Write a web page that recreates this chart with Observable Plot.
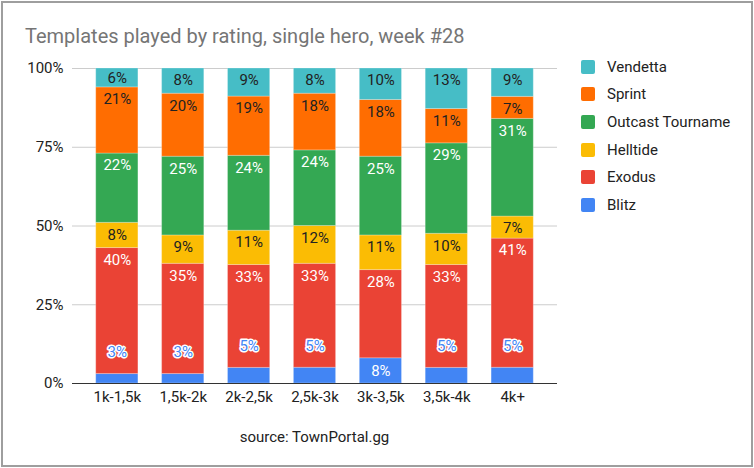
<!DOCTYPE html>
<html>
<head>
<meta charset="utf-8">
<script src="https://cdn.jsdelivr.net/npm/d3@7"></script>
<script src="https://cdn.jsdelivr.net/npm/@observablehq/plot@0.6"></script>
<style>
  html, body { margin: 0; padding: 0; background: #fff; }
  #wrap { position: relative; width: 754px; height: 468px; overflow: hidden; font-family: Roboto, "Liberation Sans", Arial, sans-serif; }
  #border { position: absolute; left: 1px; top: 1px; width: 752px; height: 466px; box-sizing: border-box; border: 2px solid #9e9e9e; pointer-events: none; }
  #title { position: absolute; left: 25px; top: 24px; font-size: 20px; color: #757575; white-space: nowrap; line-height: 24px; }
  #chart { position: absolute; left: 0; top: 0; }
  #legend { position: absolute; left: 581px; top: 53px; }
  .li { display: flex; align-items: center; height: 27.6px; font-size: 15px; color: #222; }
  .sw { width: 14px; height: 14px; border-radius: 2px; margin-right: 12px; }
  #caption { position: absolute; left: 72px; width: 485px; top: 428px; text-align: center; font-size: 15px; color: #222; line-height: 18px; }
</style>
</head>
<body>
<div id="wrap">
  <div id="chart"></div>
  <div id="title"></div>
  <div id="legend"></div>
  <div id="caption"></div>
  <div id="border"></div>
</div>
<script>
const titleText = "Templates played by rating, single hero, week #28";
const captionText = "source: TownPortal.gg";
const categories = ["1k-1,5k", "1,5k-2k", "2k-2,5k", "2,5k-3k", "3k-3,5k", "3,5k-4k", "4k+"];
const series = ["Blitz", "Exodus", "Helltide", "Outcast Tourname", "Sprint", "Vendetta"];
const colors = ["#4285f4", "#ea4335", "#fbbc04", "#34a853", "#ff6d01", "#46bdc6"];
const blitz    = [3, 3, 5, 5, 8, 5, 5];
const exodus   = [40, 35, 33, 33, 28, 33, 41];
const helltide = [8, 9, 11, 12, 11, 10, 7];
const outcast  = [22, 25, 24, 24, 25, 29, 31];
const sprint   = [21, 20, 19, 18, 18, 11, 7];
const vendetta = [6, 8, 9, 8, 10, 13, 9];
const yTicks = [0, 0.25, 0.5, 0.75, 1];

const seriesValues = [blitz, exodus, helltide, outcast, sprint, vendetta];
const data = [];
categories.forEach((c, i) => {
  series.forEach((s, j) => data.push({category: c, series: s, value: seriesValues[j][i]}));
});

const darkLabel = new Set(["Helltide", "Sprint", "Vendetta"]);
const lbl = d => d.value + "%";
const stackOpts = {x: "category", y: "value", z: "series", offset: "normalize", order: series};

function labels(test, stackFn, dy, fill, stroke) {
  return Plot.text(data, stackFn({
    ...stackOpts,
    text: d => test(d) ? lbl(d) : "",
    dy, fill,
    stroke: stroke || "none",
    strokeWidth: stroke ? 3 : 0,
    fontSize: 15,
    fontFamily: "Roboto, sans-serif",
    paintOrder: "stroke"
  }));
}

const plot = Plot.plot({
  width: 754,
  height: 468,
  marginTop: 68,
  marginBottom: 85,
  marginLeft: 72,
  marginRight: 197,
  style: {fontFamily: "Roboto, 'Liberation Sans', Arial, sans-serif", fontSize: "15px", color: "#222", background: "transparent"},
  x: {domain: categories, padding: 0.36, round: false, label: null, tickSize: 0, tickPadding: 8},
  y: {domain: [0, 1], ticks: yTicks, tickFormat: d => Math.round(d * 100) + "%", label: null, tickSize: 0, tickPadding: 9},
  color: {domain: series, range: colors},
  marks: [
    Plot.ruleY(yTicks.slice(1), {stroke: "#cccccc", strokeWidth: 1}),
    Plot.barY(data, Plot.stackY({...stackOpts, fill: "series", stroke: "white", strokeOpacity: 0.25, strokeWidth: 1})),
    Plot.ruleY([0], {stroke: "#333", strokeWidth: 1}),
    labels(d => darkLabel.has(d.series) && d.value >= 7, Plot.stackY2, 12, "#222"),
    labels(d => darkLabel.has(d.series) && d.value < 7, Plot.stackY, 0, "#222"),
    labels(d => (d.series === "Exodus" || d.series === "Outcast Tourname"), Plot.stackY2, 12, "#fff"),
    labels(d => d.series === "Blitz" && d.value >= 8, Plot.stackY, 0, "#fff"),
    labels(d => d.series === "Blitz" && d.value < 8, Plot.stackY2, -22, "#4285f4", "#fff")
  ]
});
document.getElementById("chart").appendChild(plot);
document.getElementById("title").textContent = titleText;
document.getElementById("caption").textContent = captionText;

const legend = document.getElementById("legend");
series.slice().reverse().forEach(s => {
  const row = document.createElement("div");
  row.className = "li";
  const sw = document.createElement("div");
  sw.className = "sw";
  sw.style.background = colors[series.indexOf(s)];
  const t = document.createElement("span");
  t.textContent = s;
  row.appendChild(sw);
  row.appendChild(t);
  legend.appendChild(row);
});
</script>
</body>
</html>
